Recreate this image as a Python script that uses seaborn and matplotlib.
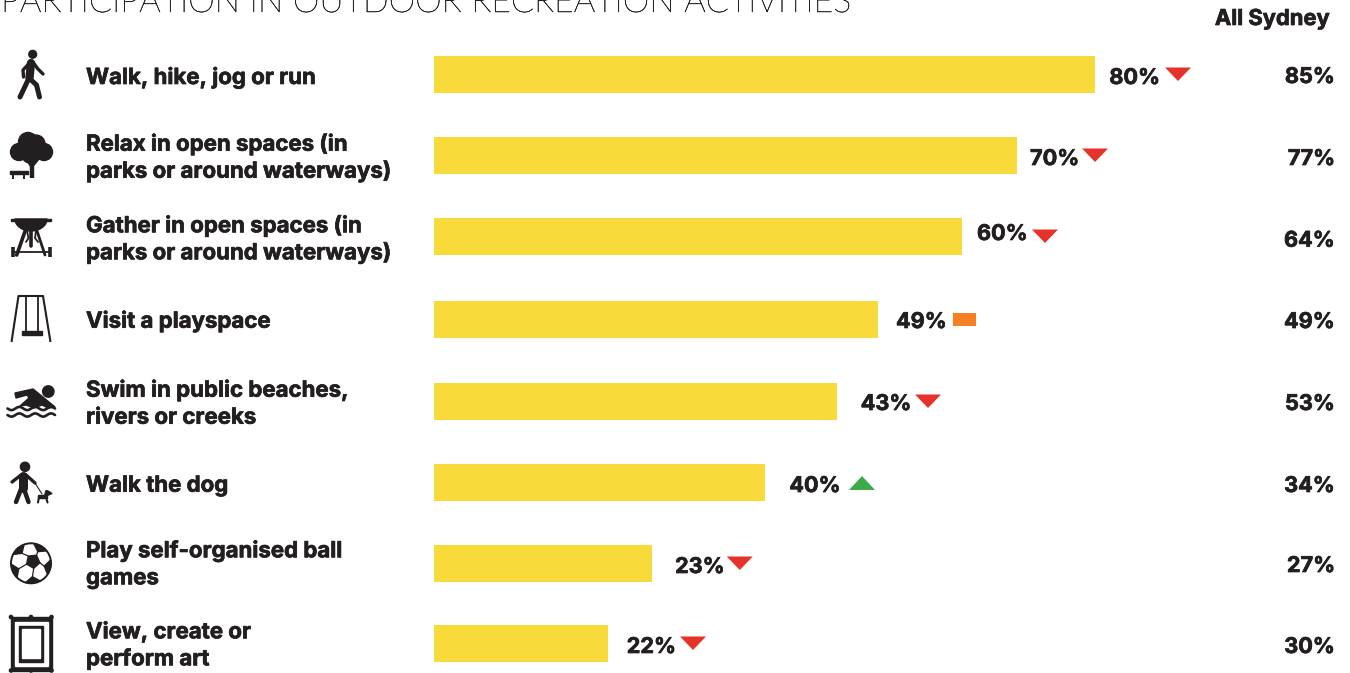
import matplotlib
matplotlib.use("Agg")
import matplotlib.pyplot as plt
import matplotlib.patheffects as pe
import numpy as np
import pandas as pd
import seaborn as sns
from matplotlib.patches import Circle, Polygon, Rectangle

# Outdoor recreation participation
activities = [
    "Walk, hike, jog or run",
    "Relax in open spaces (in\nparks or around waterways)",
    "Gather in open spaces (in\nparks or around waterways)",
    "Visit a playspace",
    "Swim in public beaches,\nrivers or creeks",
    "Walk the dog",
    "Play self-organised ball\ngames",
    "View, create or\nperform art",
]
# bar lengths as drawn in the source (they do not follow the labels exactly)
bar_lengths = [80.0, 70.6, 63.9, 53.7, 48.8, 40.0, 26.4, 21.0]
local_labels = ["80%", "70%", "60%", "49%", "43%", "40%", "23%", "22%"]
sydney_labels = ["85%", "77%", "64%", "49%", "53%", "34%", "27%", "30%"]
trends = ["down", "down", "down", "same", "down", "up", "down", "down"]

INK = "#231F20"
YELLOW = "#F8DA3A"
TREND_COLORS = {"down": "#E53329", "up": "#3DAA49", "same": "#F58025"}

W, H = 1350, 673
PX_PER_UNIT = 8.2625
ROW_STEP = 81.29
FIRST_ROW = 74.5
BAR_X0 = 434

# layout per row, in pixels
row_y = [74.5, 155.5, 236.5, 319.5, 401.5, 482.5, 563.5, 643.5]
name_base = [84, 150.7, 232.3, 327.7, 396.7, 491.7, 557.3, 638.3]
local_base = [84, 165, 240, 328, 410, 492, 573, 653]
sydney_base = [83, 165, 246.7, 328, 410, 492, 572, 653]
label_gap = [14.3, 12.7, 15, 18.3, 23.5, 24.8, 22.9, 19.2]
trend_gap = [68.7, 65, 68, 68.5, 67.3, 72.7, 64.7, 66.3]
LINE_GAP = 27

# the source type is a touch heavier than Inter Bold
HEAVY = [pe.withStroke(linewidth=0.5, foreground=INK)]


def line(ax, xs, ys, lw=2.0, color=INK, cap="round"):
    ax.plot(xs, ys, color=color, lw=lw, solid_capstyle=cap, solid_joinstyle="round")


def icon_walker(ax):
    ax.add_patch(Circle((32.7, 54.3), 3.9, color=INK))
    line(ax, [31, 29.5], [63, 78], lw=6)
    line(ax, [29.5, 23, 23.5], [63, 70, 77], lw=2.4)
    line(ax, [33, 37.5, 43], [62, 68.5, 74], lw=2.4)
    line(ax, [29, 20], [78, 97], lw=3.6)
    line(ax, [29, 36.5, 39.5], [78, 85, 97], lw=3.6)


def icon_tree(ax):
    for cx, cy, r in [(28, 142, 9.5), (19, 152, 8.5), (44, 152, 8.5), (36, 144, 9), (30, 155, 8)]:
        ax.add_patch(Circle((cx, cy), r, color=INK))
    line(ax, [31.7, 31.7], [178, 162], lw=3.2, cap="butt")
    line(ax, [31.7, 25], [167, 157], lw=1.8)
    line(ax, [31.7, 40], [167, 157], lw=1.8)
    ax.add_patch(Rectangle((10, 171), 17.5, 2.5, color=INK))
    line(ax, [13, 13], [173, 178.5], lw=1.4, cap="butt")
    line(ax, [24, 24], [173, 178.5], lw=1.4, cap="butt")


def icon_grill(ax):
    t = np.linspace(0, np.pi, 30)
    ax.add_patch(Polygon(np.c_[31 + 16 * np.cos(t), 219 + 12 * np.sin(t)], color=INK))
    ax.add_patch(Rectangle((11, 218.5), 39.7, 2.6, color=INK))
    line(ax, [25.5, 16.7], [230, 255], lw=2.6)
    line(ax, [36.7, 45], [230, 255], lw=2.0)
    line(ax, [13, 50], [251.7, 251.7], lw=1.3)
    line(ax, [12.7, 12.7], [246.7, 256.7], lw=2.6, cap="butt")
    line(ax, [50, 50], [246.7, 256.7], lw=2.6, cap="butt")
    line(ax, [31, 31], [230, 246], lw=2.6)
    line(ax, [27, 28.5, 26], [231, 238, 242], lw=1.3)
    line(ax, [36, 35, 38], [231, 238, 242], lw=1.3)


def icon_swing(ax):
    line(ax, [11.5, 18.5, 43, 50.5], [342, 296, 296, 342], lw=1.5, cap="butt")
    line(ax, [25.5, 25.5], [296, 331], lw=1.3, cap="butt")
    line(ax, [37.5, 37.5], [296, 331], lw=1.3, cap="butt")
    ax.add_patch(Rectangle((21.5, 330.5), 20, 4, color=INK))


def icon_swimmer(ax):
    ax.add_patch(Circle((48.3, 391.5), 5.7, color=INK))
    ax.add_patch(Polygon([(15, 393), (33, 389), (38, 393), (55, 407), (48, 408), (42, 405), (34, 408),
                          (26, 405), (20, 406), (29, 398), (27, 395), (16, 398)], color=INK))
    xs = np.linspace(7.5, 55, 60)
    for base in (408.5, 415):
        line(ax, xs, base + 1.6 * np.sin((xs - 7.5) / 47.5 * 6 * np.pi), lw=1.9)


def icon_dogwalker(ax):
    ax.add_patch(Circle((25, 466.8), 4.6, color=INK))
    line(ax, [22.5, 22.5], [476, 488], lw=6.5)
    line(ax, [21, 12], [475, 482], lw=2.4)
    line(ax, [26, 35], [475, 483], lw=2.4)
    line(ax, [21, 16], [489, 502], lw=3.2)
    line(ax, [24, 28.5], [489, 502], lw=3.2)
    line(ax, [35, 42], [483, 494], lw=0.8)
    ax.add_patch(Rectangle((38, 494.5), 9, 3.2, color=INK))
    line(ax, [39, 38], [497, 502.5], lw=1.5)
    line(ax, [46, 47.5], [497, 502.5], lw=1.5)
    ax.add_patch(Polygon([(44.5, 496), (46, 490.5), (48, 491), (52, 493.5), (48.5, 495)], color=INK))


def icon_ball(ax):
    cx, cy, r = 31, 563.3, 20
    ax.add_patch(Circle((cx, cy), r, fc="white", ec=INK, lw=1.4, zorder=2))
    angles = np.deg2rad(np.arange(5) * 72 - 60)
    ax.add_patch(Polygon(np.c_[cx + 2 + 7 * np.cos(angles), cy - 2 + 7 * np.sin(angles)], color=INK, zorder=3))
    for a in angles:
        pts = [(cx + r * np.cos(a + d), cy + r * np.sin(a + d)) for d in (-0.38, 0, 0.38)]
        pts.append((cx + 13.5 * np.cos(a), cy + 13.5 * np.sin(a)))
        ax.add_patch(Polygon(pts, color=INK, zorder=3))
        line(ax, [cx + 2 + 7 * np.cos(a), cx + 13.5 * np.cos(a)],
             [cy - 2 + 7 * np.sin(a), cy + 13.5 * np.sin(a)], lw=0.9)


def icon_frame(ax):
    ax.add_patch(Rectangle((10.7, 616.5), 41, 54.2, color=INK, zorder=2))
    for cx in (11, 31, 51.5):
        for cy in (617, 670.5):
            ax.add_patch(Circle((cx, cy), 1.6, color=INK, zorder=2))
    ax.add_patch(Rectangle((14.5, 621.7), 33.2, 44, color="white", zorder=3))
    ax.add_patch(Rectangle((19.3, 626), 23.4, 35.7, color=INK, zorder=4))
    ax.add_patch(Rectangle((22, 629.3), 18, 29, color="white", zorder=5))


sns.set_theme(style="white", rc={"axes.facecolor": "none"})
plt.rcParams["font.family"] = ["Inter", "DejaVu Sans"]

df = pd.DataFrame({"activity": activities, "length": bar_lengths})

fig = plt.figure(figsize=(W / 100, H / 100), dpi=100, facecolor="white")

# bars: the axes fill the figure so that the value scale lines up with the layout
ax = fig.add_axes([0, 0, 1, 1])
sns.barplot(data=df, y="activity", x="length", color=YELLOW, saturation=1, width=37 / ROW_STEP, ax=ax)
ax.set_xlim(-BAR_X0 / PX_PER_UNIT, (W - BAR_X0) / PX_PER_UNIT)
ax.set_ylim((H - FIRST_ROW) / ROW_STEP, -FIRST_ROW / ROW_STEP)
ax.axis("off")
for bar, y in zip(ax.patches, row_y):
    bar.set_y((y - FIRST_ROW) / ROW_STEP - bar.get_height() / 2)
    bar.set_linewidth(0)

# overlay in figure pixels for texts, trend marks and icons
px = fig.add_axes([0, 0, 1, 1])
px.set_xlim(0, W)
px.set_ylim(H, 0)
px.axis("off")

px.text(1, 12, "PARTICIPATION IN OUTDOOR RECREATION ACTIVITIES", fontsize=24.35, family=["Lato", "DejaVu Sans"],
        fontweight="light", color=INK, va="baseline", ha="left",
        path_effects=[pe.withStroke(linewidth=0.35, foreground=INK)])
px.text(1330, 25, "All Sydney", fontsize=15.8, fontweight="bold", color=INK, ha="right", va="baseline",
        path_effects=HEAVY)

for i, name in enumerate(activities):
    y = row_y[i]
    end = BAR_X0 + bar_lengths[i] * PX_PER_UNIT
    for k, part in enumerate(name.split("\n")):
        px.text(86, name_base[i] + k * LINE_GAP, part, fontsize=16, fontweight="bold", color=INK,
                va="baseline", ha="left", path_effects=HEAVY)
    x_lab = end + label_gap[i]
    px.text(x_lab, local_base[i], local_labels[i], fontsize=15.6, fontweight="bold", color=INK,
            va="baseline", ha="left", path_effects=HEAVY)
    px.text(1335, sydney_base[i], sydney_labels[i], fontsize=15.6, fontweight="bold", color=INK,
            va="baseline", ha="right", path_effects=HEAVY)
    cx = x_lab + trend_gap[i]
    color = TREND_COLORS[trends[i]]
    if trends[i] == "down":
        px.add_patch(Polygon([(cx - 13, y - 7), (cx + 13, y - 7), (cx, y + 6.5)], color=color, lw=0))
    elif trends[i] == "up":
        px.add_patch(Polygon([(cx - 13, y + 7.5), (cx + 13, y + 7.5), (cx, y - 6.5)], color=color, lw=0))
    else:
        px.add_patch(Rectangle((cx - 11.5, y - 6.3), 23, 12.7, color=color, lw=0))

for draw in (icon_walker, icon_tree, icon_grill, icon_swing, icon_swimmer, icon_dogwalker, icon_ball, icon_frame):
    draw(px)

px.set_xlim(0, W)
px.set_ylim(H, 0)
fig.savefig("out.png", dpi=100, facecolor="white")
